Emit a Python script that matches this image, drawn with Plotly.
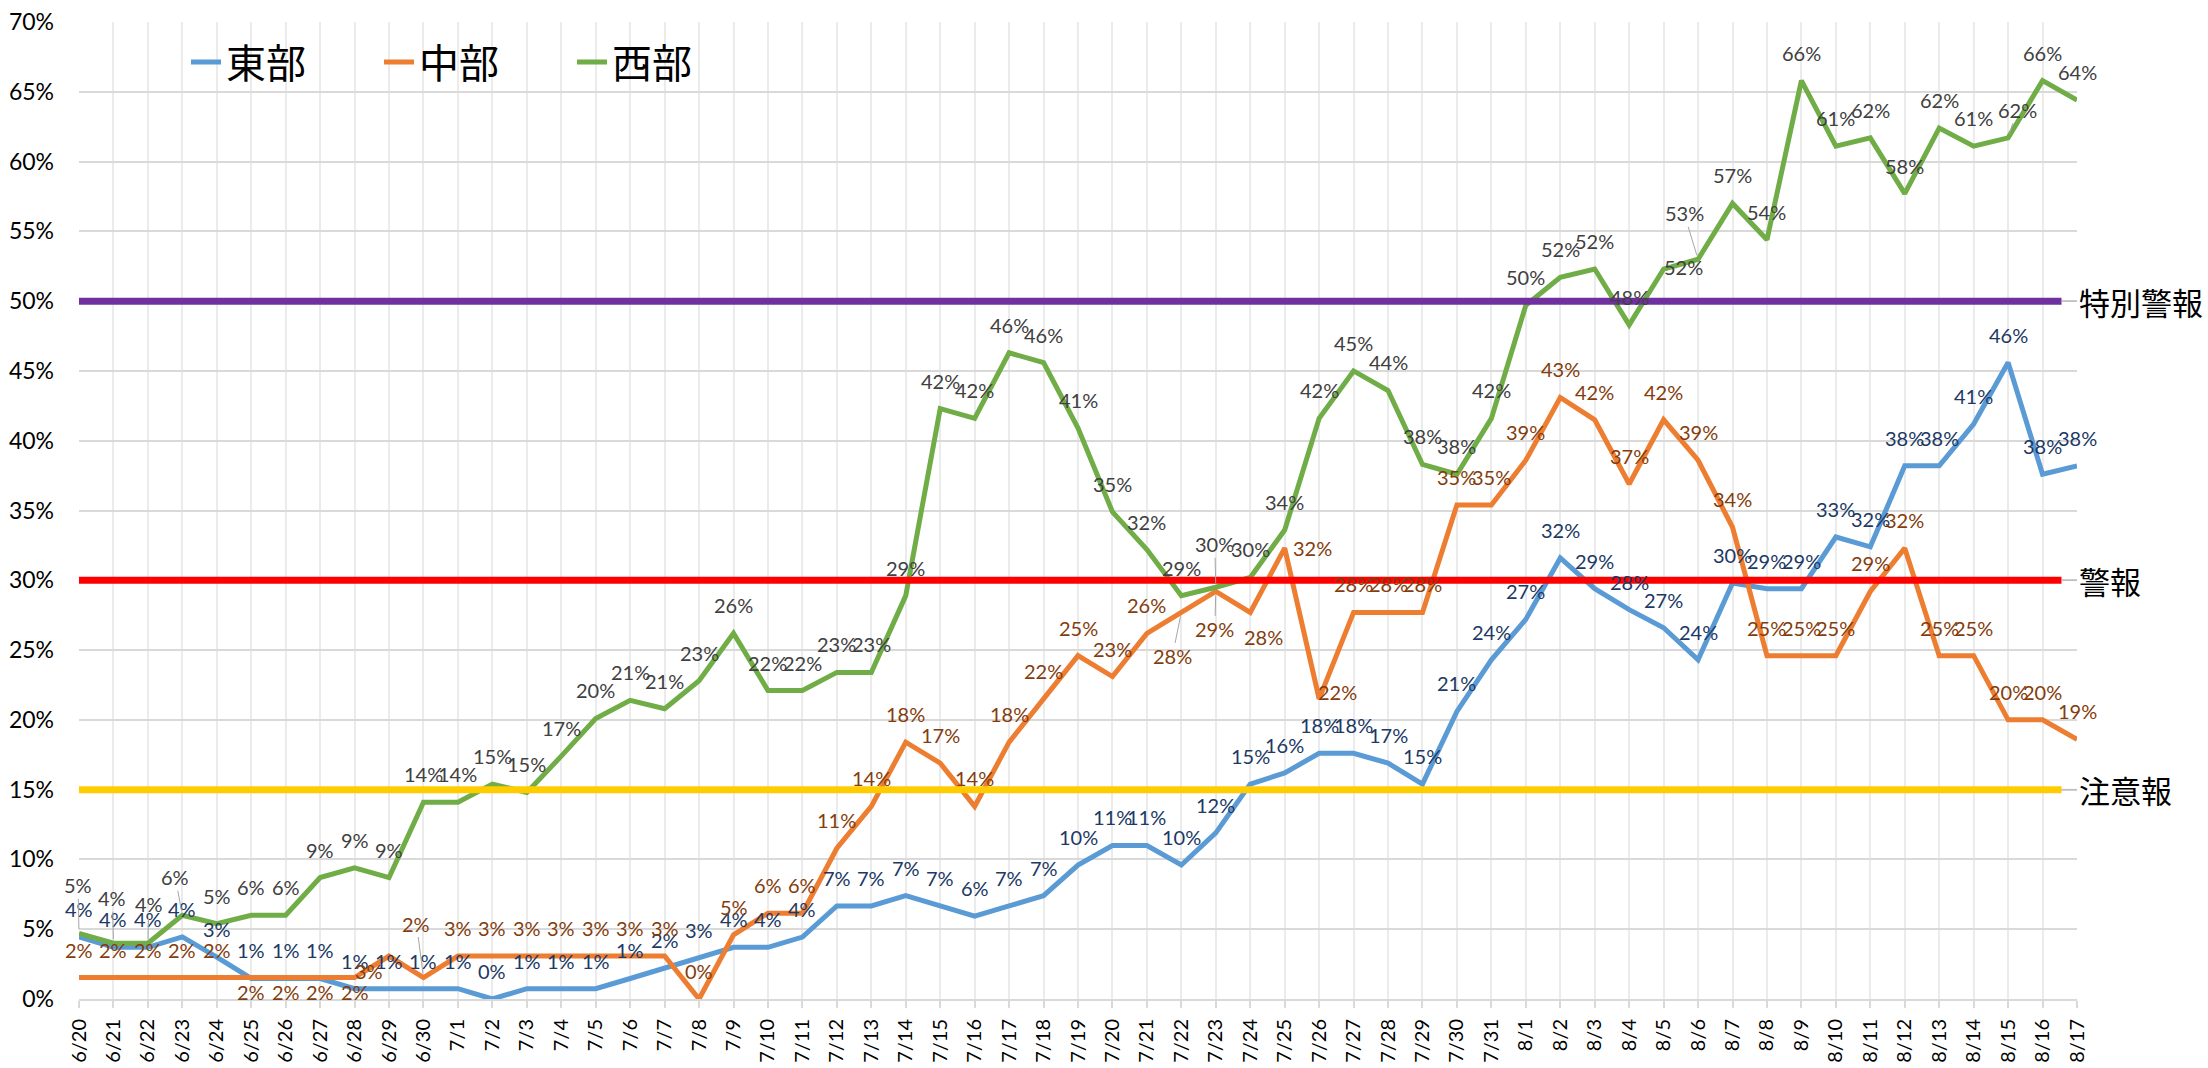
import plotly.graph_objects as go

# ---------------- data ----------------
dates = ["6/20", "6/21", "6/22", "6/23", "6/24", "6/25", "6/26", "6/27", "6/28", "6/29", "6/30",
         "7/1", "7/2", "7/3", "7/4", "7/5", "7/6", "7/7", "7/8", "7/9", "7/10",
         "7/11", "7/12", "7/13", "7/14", "7/15", "7/16", "7/17", "7/18", "7/19", "7/20",
         "7/21", "7/22", "7/23", "7/24", "7/25", "7/26", "7/27", "7/28", "7/29", "7/30", "7/31",
         "8/1", "8/2", "8/3", "8/4", "8/5", "8/6", "8/7", "8/8", "8/9", "8/10",
         "8/11", "8/12", "8/13", "8/14", "8/15", "8/16", "8/17"]

# values in percent
east = [4.45, 3.7, 3.7, 4.45, 3.0, 1.47, 1.47, 1.47, 0.74, 0.74, 0.74,
        0.74, 0.0, 0.74, 0.74, 0.74, 1.47, 2.2, 2.96, 3.7, 3.7,
        4.44, 6.67, 6.67, 7.4, 6.67, 5.93, 6.67, 7.4, 9.6, 11.0,
        11.0, 9.6, 11.9, 15.4, 16.2, 17.6, 17.6, 16.9, 15.4, 20.6, 24.3,
        27.2, 31.6, 29.4, 27.9, 26.6, 24.3, 29.8, 29.4, 29.4, 33.1,
        32.4, 38.2, 38.2, 41.2, 45.6, 37.6, 38.2]

central = [1.54, 1.54, 1.54, 1.54, 1.54, 1.54, 1.54, 1.54, 1.54, 3.08, 1.54,
           3.08, 3.08, 3.08, 3.08, 3.08, 3.08, 3.08, 0.0, 4.6, 6.15,
           6.15, 10.8, 13.8, 18.4, 16.9, 13.8, 18.4, 21.5, 24.6, 23.1,
           26.2, 27.7, 29.2, 27.7, 32.3, 21.5, 27.7, 27.7, 27.7, 35.4, 35.4,
           38.6, 43.1, 41.5, 36.9, 41.5, 38.6, 33.8, 24.6, 24.6, 24.6,
           29.2, 32.3, 24.6, 24.6, 20.0, 20.0, 18.6]

west = [4.7, 4.0, 4.0, 6.0, 5.4, 6.0, 6.0, 8.7, 9.4, 8.7, 14.1,
        14.1, 15.4, 14.8, 17.4, 20.1, 21.4, 20.8, 22.8, 26.2, 22.1,
        22.1, 23.4, 23.4, 28.9, 42.3, 41.6, 46.3, 45.6, 40.9, 34.9,
        32.2, 28.9, 29.5, 30.2, 33.6, 41.6, 45.0, 43.6, 38.3, 37.6, 41.6,
        49.7, 51.7, 52.3, 48.3, 52.3, 53.0, 57.0, 54.4, 65.8, 61.1,
        61.7, 57.7, 62.4, 61.1, 61.7, 65.8, 64.4]

series_names = ["東部", "中部", "西部"]

threshold_values = [50, 30, 15]
threshold_names = ["特別警報", "警報", "注意報"]

# ---------------- style ----------------
line_colors = ["#5B9BD5", "#ED7D31", "#70AD47"]
label_colors = ["#203864", "#843C0C", "#404040"]
threshold_colors = ["#7030A0", "#FF0000", "#FFCC00"]

FONT = "Lato, 'Noto Sans CJK JP', sans-serif"
CJK = "'Noto Sans CJK JP', 'Noto Sans', sans-serif"

# label placement (pixel offsets dx, dy of label centre from point; dy>0 = up)
DEFAULT_OFF = (0, 28)
label_offsets = [
    {},  # east: all above
    {5: (0, -14), 6: (0, -14), 7: (0, -14), 8: (0, -14), 9: (-20, -15),
     10: (-7, 54), 32: (-9, -44), 33: (-1, -38), 34: (13, -25),
     35: (28, 0), 36: (18, 7)},
    {0: (-1, 48), 1: (-1, 45), 2: (1, 39), 3: (-7, 38), 33: (-1, 43),
     46: (20, 2), 47: (-14, 46), 56: (9, 28)},
]
leader_points = [set(), {10, 32, 33}, {0, 1, 2, 3, 33, 47, 56}]

x_idx = list(range(len(dates)))
all_series = [east, central, west]

fig = go.Figure()
for name, vals, col in zip(series_names, all_series, line_colors):
    fig.add_trace(go.Scatter(
        x=x_idx, y=[v / 100 for v in vals], mode="lines", name=name,
        line=dict(color=col, width=5), hoverinfo="skip"))

annotations = []
for s, vals in enumerate(all_series):
    for i, v in enumerate(vals):
        dx, dy = label_offsets[s].get(i, DEFAULT_OFF)
        txt = f"{int(v + 0.5)}%"
        base = dict(x=x_idx[i], y=v / 100, xref="x", yref="y", text=txt,
                    font=dict(family=FONT, size=20, color=label_colors[s]))
        if i in leader_points[s]:
            base.update(showarrow=True, ax=dx, ay=-dy, arrowhead=0,
                        arrowwidth=1, arrowcolor="#A6A6A6", standoff=4)
        else:
            base.update(showarrow=False, xshift=dx, yshift=dy,
                        xanchor="center", yanchor="middle")
        annotations.append(base)

n_last = len(dates) - 1
line_end = n_last - 0.45
shapes = []
for val, name, col in zip(threshold_values, threshold_names, threshold_colors):
    shapes.append(dict(type="line", xref="x", yref="y", x0=0, x1=line_end,
                       y0=val / 100, y1=val / 100, layer="above",
                       line=dict(color=col, width=7)))
    shapes.append(dict(type="line", xref="x", yref="y", x0=line_end, x1=n_last,
                       y0=val / 100, y1=val / 100, layer="above",
                       line=dict(color="#BFBFBF", width=1.5)))
    annotations.append(dict(x=n_last, y=val / 100, xref="x", yref="y",
                            text=name, showarrow=False, xanchor="left",
                            yanchor="middle", xshift=0,
                            font=dict(family=CJK, size=31, color="#000000")))

fig.update_layout(
    width=2208, height=1068, autosize=False,
    margin=dict(l=79, r=131, t=22, b=69, pad=0, autoexpand=False),
    paper_bgcolor="white", plot_bgcolor="white",
    font=dict(family=FONT, color="#000000"),
    showlegend=True,
    legend=dict(orientation="h", xref="paper", yref="paper",
                x=(186 - 79) / 1998, y=1 - (62 - 22) / 977,
                xanchor="left", yanchor="middle",
                bgcolor="rgba(0,0,0,0)", font=dict(family=CJK, size=40, color="#000000"),
                entrywidthmode="pixels", entrywidth=148, itemwidth=30,
                tracegroupgap=0),
    annotations=annotations,
    shapes=shapes,
)

fig.update_xaxes(
    range=[0, n_last], tickmode="array", tickvals=x_idx, ticktext=dates,
    tickangle=-90, tickfont=dict(family=FONT, size=20, color="#000000"),
    showgrid=True, gridcolor="#EBEBEB", gridwidth=2,
    ticks="outside", ticklen=7, tickwidth=2, tickcolor="#D9D9D9",
    showline=True, linecolor="#D9D9D9", linewidth=2, zeroline=False,
    ticklabelstandoff=3,
)
fig.update_yaxes(
    range=[0, 0.70], dtick=0.05, tickformat=".0%",
    tickfont=dict(family=FONT, size=23, color="#000000"),
    showgrid=True, gridcolor="#D9D9D9", gridwidth=2,
    zeroline=False, showline=False, ticks="", ticklabelstandoff=24,
)

fig.write_html(
    "out.html",
    config={"displayModeBar": False},
    post_script="document.body.style.margin='0px';document.body.style.overflow='hidden';",
)
